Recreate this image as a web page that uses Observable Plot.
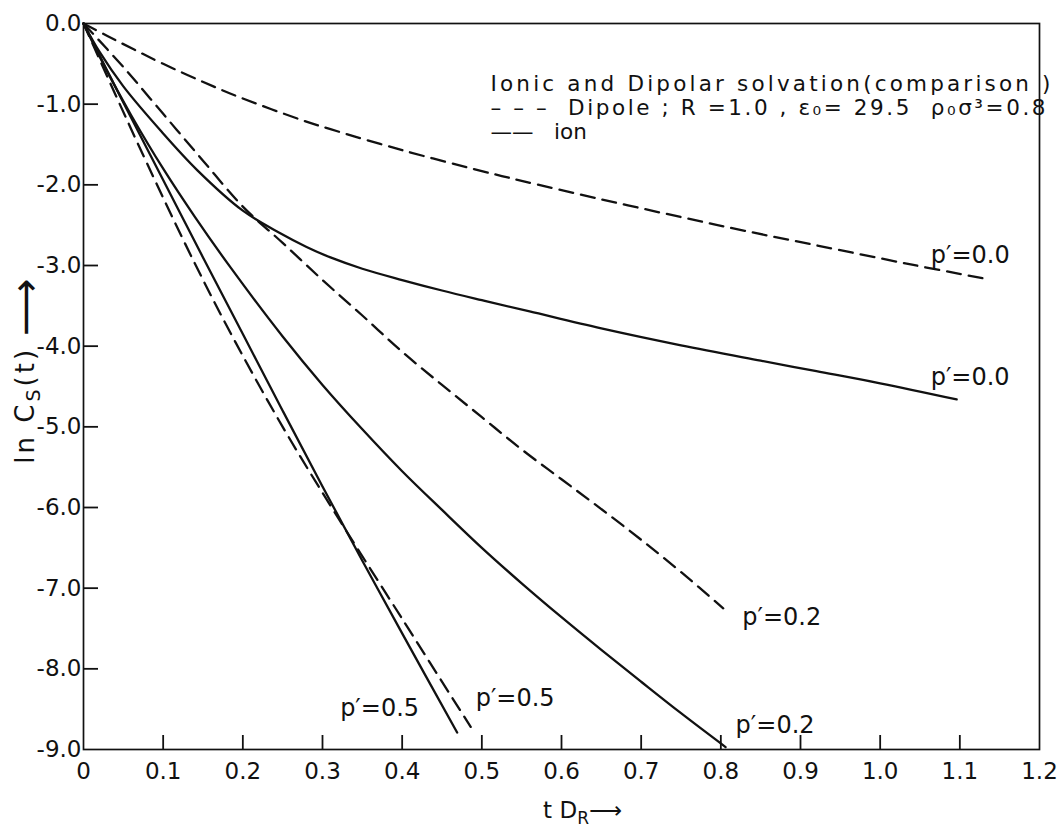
<!DOCTYPE html>
<html>
<head>
<meta charset="utf-8">
<script src="https://cdn.jsdelivr.net/npm/d3@7"></script>
<script src="https://cdn.jsdelivr.net/npm/@observablehq/plot@0.6"></script>
<style>
  html, body { margin: 0; padding: 0; background: #fff; }
  #chart { position: absolute; left: 0; top: 0; }
</style>
</head>
<body>
<div id="chart"></div>
<script>
// ---- data ----
const xTicks = [0, 0.1, 0.2, 0.3, 0.4, 0.5, 0.6, 0.7, 0.8, 0.9, 1.0, 1.1, 1.2];
const yTicks = [0, -1, -2, -3, -4, -5, -6, -7, -8, -9];

// dashed = dipole, solid = ion ; each [tD_R, ln Cs(t)]
const dipoleP00 = [[0,0],[0.03,-0.155],[0.063,-0.32],[0.1,-0.50],[0.163,-0.78],[0.2,-0.93],[0.272,-1.19],[0.31,-1.31],[0.4,-1.57],[0.5,-1.83],[0.55,-1.95],[0.65,-2.18],[0.75,-2.40],[0.83,-2.57],[0.92,-2.75],[1.04,-2.99],[1.135,-3.17]];
const ionP00    = [[0,0],[0.02,-0.35],[0.05,-0.78],[0.097,-1.33],[0.143,-1.82],[0.2,-2.32],[0.247,-2.6],[0.28,-2.77],[0.31,-2.9],[0.35,-3.04],[0.4,-3.18],[0.45,-3.31],[0.5,-3.43],[0.56,-3.57],[0.65,-3.78],[0.75,-3.99],[0.85,-4.18],[0.92,-4.31],[1.0,-4.46],[1.096,-4.66]];
const dipoleP02 = [[0,0],[0.05,-0.54],[0.1,-1.12],[0.15,-1.7],[0.2,-2.27],[0.25,-2.72],[0.3,-3.18],[0.35,-3.62],[0.4,-4.07],[0.45,-4.48],[0.5,-4.88],[0.55,-5.28],[0.6,-5.65],[0.65,-6.02],[0.7,-6.4],[0.75,-6.8],[0.803,-7.25]];
const ionP02    = [[0,0],[0.03,-0.6],[0.06,-1.14],[0.1,-1.8],[0.14,-2.40],[0.185,-3.03],[0.25,-3.88],[0.3,-4.48],[0.35,-5.03],[0.4,-5.55],[0.45,-6.03],[0.5,-6.50],[0.55,-6.94],[0.6,-7.36],[0.65,-7.765],[0.7,-8.16],[0.75,-8.55],[0.806,-8.97]];
const dipoleP05 = [[0,0],[0.04,-0.88],[0.08,-1.74],[0.138,-2.94],[0.188,-3.90],[0.25,-5.0],[0.314,-6.04],[0.4,-7.38],[0.486,-8.72]];
const ionP05    = [[0,0],[0.05,-0.98],[0.1,-1.94],[0.15,-2.9],[0.2,-3.85],[0.25,-4.8],[0.3,-5.74],[0.35,-6.66],[0.4,-7.56],[0.469,-8.79]];

const seriesNames  = ["dipole 0.0", "ion 0.0", "dipole 0.2", "ion 0.2", "dipole 0.5", "ion 0.5"];
const seriesKinds  = ["dipole", "ion", "dipole", "ion", "dipole", "ion"];
const seriesLabels = ["p′=0.0", "p′=0.0", "p′=0.2", "p′=0.2", "p′=0.5", "p′=0.5"];
const seriesPoints = [dipoleP00, ionP00, dipoleP02, ionP02, dipoleP05, ionP05];

const legendLines = [
  "Ionic and Dipolar solvation(comparison )",
  "– – –  Dipole ; R =1.0 , ε₀= 29.5  ρ₀σ³=0.8",
  "——   ion"
];
const xTitle = "t D_R⟶";
const yTitle = "ln C_S(t) ⟶";

// ---- layout / style (not data) ----
const W = 1058, H = 832;
const mL = 83, mR = 19, mT = 23, mB = 83;
const innerW = W - mL - mR, innerH = H - mT - mB;
const FONT = "DejaVu Sans";
const INK = "#111";
const labelOffsets = {
  "dipole 0.0": {dx: -57, dy: -24},
  "ion 0.0":    {dx: -26, dy: -22},
  "dipole 0.2": {dx: 19,  dy: 9},
  "ion 0.2":    {dx: 10,  dy: -22},
  "dipole 0.5": {dx: 5,   dy: -29},
  "ion 0.5":    {dx: -117, dy: -24}
};
const legendDy = [52, 76, 100];
const legendLength = [560, 555, null];

const rows = seriesNames.flatMap((name, i) =>
  seriesPoints[i].map(([x, y]) => ({series: name, kind: seriesKinds[i], label: seriesLabels[i], x, y})));

const fmtY = d => d === 0 ? "0.0" : "-" + Math.abs(d).toFixed(1);
const fmtX = d => d === 0 ? "0" : d.toFixed(1);

const lineOpts = {x: "x", y: "y", z: "series", stroke: INK, strokeWidth: 2.3, curve: "catmull-rom"};

const labelMarks = seriesNames.map(name =>
  Plot.text(rows.filter(r => r.series === name), Plot.selectLast({
    x: "x", y: "y", text: "label", textAnchor: "start",
    dx: labelOffsets[name].dx, dy: labelOffsets[name].dy,
    fontSize: 24, fill: INK
  })));

const legendMarks = legendLines.map((line, i) =>
  Plot.text([line], {frameAnchor: "top-left", textAnchor: "start", lineAnchor: "top",
    dx: 407, dy: legendDy[i], fontSize: 21.5, fill: INK}));

const chart = Plot.plot({
  width: W, height: H,
  marginLeft: mL, marginRight: mR, marginTop: mT, marginBottom: mB,
  style: {fontFamily: FONT, background: "#fff", color: INK},
  x: {domain: [0, 1.2], label: null},
  y: {domain: [-9, 0], label: null},
  marks: [
    Plot.frame({stroke: INK, strokeWidth: 1.7}),
    Plot.tickY(yTicks.filter(d => d > -9 && d < 0), {y: d => d, insetRight: innerW - 15, stroke: INK, strokeWidth: 1.8}),
    Plot.tickX(xTicks.filter(d => d > 0 && d < 1.2), {x: d => d, insetTop: innerH - 14, stroke: INK, strokeWidth: 1.8}),
    Plot.axisY(yTicks, {tickSize: 0, tickPadding: 2, tickFormat: fmtY, fontSize: 23, label: null}),
    Plot.axisX(xTicks, {tickSize: 0, tickPadding: 13, tickFormat: fmtX, fontSize: 23, label: null}),
    Plot.line(rows.filter(r => r.kind === "dipole"), {...lineOpts, strokeDasharray: "14,8"}),
    Plot.line(rows.filter(r => r.kind === "ion"), lineOpts),
    ...labelMarks,
    ...legendMarks,
    Plot.text([yTitle], {frameAnchor: "left", textAnchor: "middle", rotate: -90, dx: -58, dy: -17, fontSize: 26, fill: INK}),
    Plot.text([xTitle], {frameAnchor: "bottom", textAnchor: "middle", dx: 21, dy: 68, fontSize: 23, fill: INK})
  ]
});

// post-processing of a few text elements: subscripts, long arrow, legend widths
const NS = "http://www.w3.org/2000/svg";
const span = (parent, txt, attrs = {}) => {
  const s = document.createElementNS(NS, "tspan");
  s.textContent = txt;
  for (const [k, v] of Object.entries(attrs)) s.setAttribute(k, v);
  parent.appendChild(s);
  return s;
};
chart.querySelectorAll("text").forEach(t => {
  const s = t.textContent;
  if (t.children.length === 0 && s === yTitle) {
    t.textContent = "";
    t.setAttribute("letter-spacing", "3");
    span(t, "ln C");
    span(t, "S", {dy: "6", "font-size": "19"});
    span(t, "(t) ", {dy: "-6"});
    span(t, "⟶", {dy: "5", "font-size": "40"});
  } else if (t.children.length === 0 && s === xTitle) {
    t.textContent = "";
    span(t, "t D");
    span(t, "R", {dy: "6", "font-size": "17"});
    span(t, "⟶", {dy: "-6"});
  } else {
    const i = legendLines.indexOf(s);
    if (i >= 0 && legendLength[i]) {
      t.setAttribute("textLength", legendLength[i]);
      t.setAttribute("lengthAdjust", "spacing");
    }
  }
});

document.getElementById("chart").appendChild(chart);
</script>
</body>
</html>
